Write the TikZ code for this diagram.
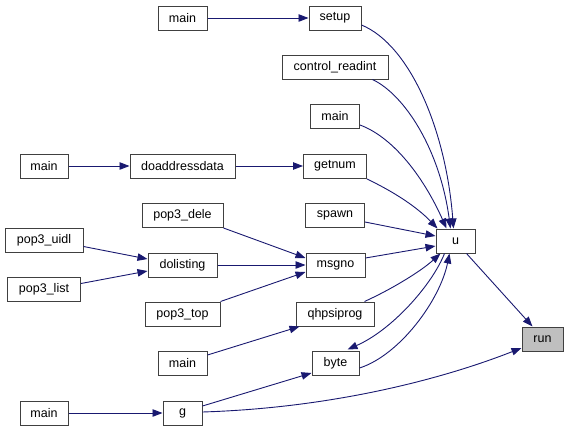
\documentclass[tikz,border=0pt]{standalone}
\usepackage{fontspec}
\setmainfont{Liberation Sans}
\usetikzlibrary{arrows.meta,calc}
\definecolor{edgec}{HTML}{191970}
\definecolor{runfill}{HTML}{BFBFBF}
\tikzset{
  fnbox/.style={draw=black!75, line width=1pt, fill=white, minimum height=24pt, inner sep=0pt, font=\fontsize{12.5}{14}\selectfont},
  call/.style={draw=edgec, line width=0.9pt, -{Triangle[length=10pt,width=7.5pt]}},
}
\begin{document}
\begin{tikzpicture}[x=1pt,y=-1pt]
\useasboundingbox (0,0) rectangle (568,431);
% nodes
\node[fnbox, minimum width=49pt] (mainA) at (182.5,18) {main};
\node[fnbox, minimum width=52pt] (setup) at (335,18) {setup};
\node[fnbox, minimum width=106pt] (ctrl) at (335,67) {control\_readint};
\node[fnbox, minimum width=49pt] (mainB) at (335,116) {main};
\node[fnbox, minimum width=48pt] (mainC) at (44,166) {main};
\node[fnbox, minimum width=105pt] (doaddr) at (182.5,166) {doaddressdata};
\node[fnbox, minimum width=63pt] (getnum) at (335,166) {getnum};
\node[fnbox, minimum width=81pt] (dele) at (182.5,215) {pop3\_dele};
\node[fnbox, minimum width=59pt] (spawn) at (335,215) {spawn};
\node[fnbox, minimum width=78pt] (uidl) at (44,240.5) {pop3\_uidl};
\node[fnbox, minimum width=39pt] (u) at (455.5,241) {u};
\node[fnbox, minimum width=69pt] (dolisting) at (182.5,265) {dolisting};
\node[fnbox, minimum width=59pt] (msgno) at (335.5,265) {msgno};
\node[fnbox, minimum width=73pt] (list) at (44,289.5) {pop3\_list};
\node[fnbox, minimum width=75pt] (top) at (182.5,314) {pop3\_top};
\node[fnbox, minimum width=78pt] (qhp) at (335,314) {qhpsiprog};
\node[fnbox, minimum width=41pt, fill=runfill] (run) at (542.5,339) {run};
\node[fnbox, minimum width=49pt] (mainD) at (182.5,363) {main};
\node[fnbox, minimum width=47pt] (byte) at (335.5,363) {byte};
\node[fnbox, minimum width=48pt] (mainE) at (44,413) {main};
\node[fnbox, minimum width=39pt] (g) at (182.5,413) {g};
% edges
\draw[call] (mainA) -- (setup);
\draw[call] ($(setup.east)+(0,7)$) .. controls (410,45) and (446,130) .. ($(u.north)+(-2,0)$);
\draw[call] ($(ctrl.south east)+(-16,0)$) .. controls (405,95) and (440,150) .. ($(u.north)+(-5,0)$);
\draw[call] ($(mainB.east)+(0,9)$) .. controls (395,138) and (425,180) .. ($(u.north)+(-9,0)$);
\draw[call] ($(getnum.east)+(0,13)$) .. controls (390,190) and (415,205) .. ($(u.north west)+(2,0)$);
\draw[call] ($(spawn.east)+(0,7)$) -- ($(u.west)+(0,-5)$);
\draw[call] (mainC) -- (doaddr);
\draw[call] (doaddr) -- (getnum);
\draw[call] ($(dele.east)+(0,13)$) -- ($(msgno.west)+(0,-7)$);
\draw[call] (dolisting) -- (msgno);
\draw[call] ($(top.north east)+(0,0)$) -- ($(msgno.west)+(0,7)$);
\draw[call] ($(uidl.east)+(0,6)$) -- ($(dolisting.west)+(0,-6)$);
\draw[call] ($(list.east)+(0,-6)$) -- ($(dolisting.west)+(0,6)$);
\draw[call] ($(msgno.east)+(0,-7)$) -- ($(u.west)+(0,5)$);
\draw[call] ($(qhp.north east)+(-10,0)$) .. controls (390,290) and (420,272) .. ($(u.south west)+(5,0)$);
\draw[call] ($(mainD.east)+(0,-8)$) -- ($(qhp.south west)+(4,0)$);
\draw[call] ($(u.south)+(-11,0)$) .. controls (432,285) and (392,330) .. ($(byte.north)+(12,-1)$);
\draw[call] ($(byte.east)+(0,5)$) .. controls (400,355) and (440,300) .. ($(u.south)+(-6,0)$);
\draw[call] (mainE) -- (g);
\draw[call] ($(g.east)+(0,-7)$) -- ($(byte.west)+(0,10)$);
\draw[call] ($(g.east)+(0,-1)$) .. controls (330,408) and (440,380) .. ($(run.west)+(0,9)$);
\draw[call] ($(u.south)+(11,0)$) -- ($(run.north)+(-10,0)$);
\end{tikzpicture}
\end{document}
